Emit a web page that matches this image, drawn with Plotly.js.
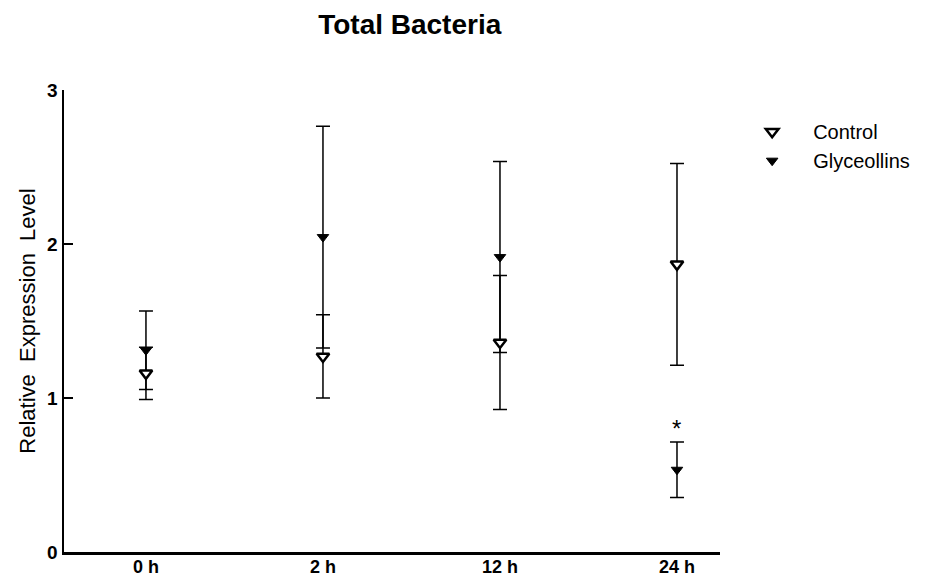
<!DOCTYPE html>
<html>
<head>
<meta charset="utf-8">
<script src="https://cdn.plot.ly/plotly-3.0.1.min.js"></script>
<style>html,body{margin:0;padding:0;background:#fff;}#chart{width:927px;height:579px;}</style>
</head>
<body>
<div id="chart"></div>
<script>
const categories = ["0 h", "2 h", "12 h", "24 h"];
const controlMean = [1.16, 1.27, 1.36, 1.868];
const controlErr = [0.17, 0.27, 0.435, 0.655];
const glyceollinsMean = [1.31, 2.045, 1.915, 0.534];
const glyceollinsErr = [0.255, 0.72, 0.62, 0.18];
const significance = [{x: "24 h", y: 0.80, text: "*"}];

const font = "Liberation Sans, Arial, sans-serif";

const traces = [
  {
    name: "Glyceollins", type: "scatter", mode: "markers",
    x: categories, y: glyceollinsMean,
    error_y: {type: "data", array: glyceollinsErr, visible: true, color: "#000", thickness: 1.5, width: 7},
    marker: {symbol: "triangle-down", size: 10, color: "#000", line: {color: "#000", width: 1}}
  },
  {
    name: "Control", type: "scatter", mode: "markers",
    x: categories, y: controlMean,
    error_y: {type: "data", array: controlErr, visible: true, color: "#000", thickness: 1.5, width: 7},
    marker: {symbol: "triangle-down", size: 11, color: "#fff", line: {color: "#000", width: 2.5}}
  }
];

const layout = {
  width: 927, height: 579,
  margin: {l: 64, r: 207, t: 90, b: 27},
  paper_bgcolor: "#fff", plot_bgcolor: "#fff",
  font: {family: font, color: "#000"},
  title: {text: "<b>Total Bacteria</b>", font: {family: font, size: 28, color: "#000"},
          xref: "container", x: 0.442, xanchor: "center", yref: "container", y: 0.958, yanchor: "middle"},
  xaxis: {
    type: "category", categoryorder: "array", categoryarray: categories,
    range: [-0.463, 3.243], showline: true, linewidth: 2.5, linecolor: "#000",
    showgrid: false, zeroline: false, ticks: "", automargin: false, ticklabelstandoff: -3,
    tickfont: {family: font, size: 18, color: "#000", weight: "bold"}
  },
  yaxis: {
    range: [0, 3], tickvals: [0, 1, 2, 3], ticktext: ["<b>0</b>", "<b>1</b>", "<b>2</b>", "<b>3</b>"],
    showline: true, linewidth: 2.5, linecolor: "#000", showgrid: false, zeroline: false,
    ticks: "inside", ticklen: 9, tickwidth: 2, tickcolor: "#000", automargin: false,
    tickfont: {family: font, size: 19, color: "#000"},
    title: {text: "Relative  Expression  Level", font: {family: font, size: 22, color: "#000"}, standoff: 6}
  },
  legend: {x: 1.017, xanchor: "left", y: 0.952, yanchor: "top", traceorder: "reversed",
           font: {family: font, size: 20, color: "#000"}, bgcolor: "rgba(0,0,0,0)", itemwidth: 72},
  showlegend: true,
  annotations: significance.map(s => ({x: s.x, y: s.y, xref: "x", yref: "y", text: s.text, showarrow: false,
    font: {family: font, size: 24, color: "#000"}}))
};

Plotly.newPlot("chart", traces, layout, {displayModeBar: false, staticPlot: true});
</script>
</body>
</html>
